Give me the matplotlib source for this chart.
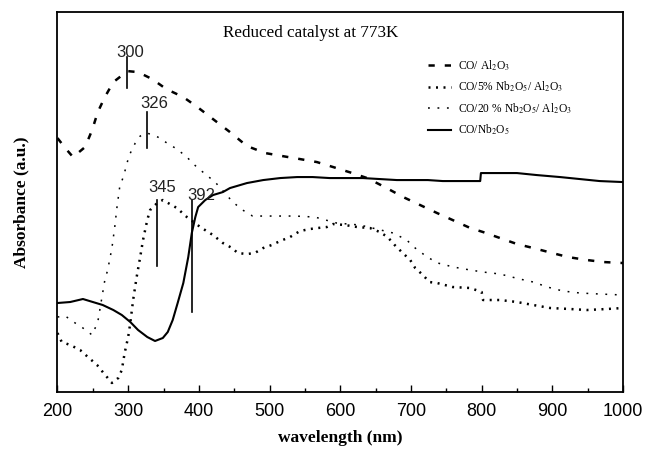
import numpy as np
import matplotlib
matplotlib.use('Agg')
import matplotlib.pyplot as plt
from matplotlib.ticker import MultipleLocator

plt.rcParams['mathtext.fontset'] = 'stix'

# CO/ Al2O3 (dashed)
wl_al = [200, 211, 222, 239, 249, 257, 267, 279, 299, 314, 334, 354, 378, 398, 420, 444,
         468, 494, 518, 543, 567, 590, 617, 638, 663, 689, 713, 737, 759, 784, 802, 826,
         850, 873, 900, 922, 949, 972, 1000]
abs_al = [2.54, 2.44, 2.35, 2.45, 2.62, 2.80, 2.95, 3.10, 3.21, 3.20, 3.13, 3.03, 2.95, 2.85,
          2.73, 2.60, 2.46, 2.39, 2.36, 2.33, 2.30, 2.25, 2.19, 2.14, 2.05, 1.95, 1.87, 1.79,
          1.72, 1.64, 1.60, 1.54, 1.48, 1.44, 1.39, 1.35, 1.32, 1.30, 1.29]

# CO/5% Nb2O5/ Al2O3 (dense dots)
wl_5 = [200, 206, 218, 232, 243, 256, 264, 277, 286, 291, 295, 300, 303, 307, 312, 317, 321,
        327, 331, 341, 349, 369, 383, 402, 420, 434, 447, 455, 468, 479, 491, 503, 515, 529,
        543, 557, 568, 581, 590, 607, 624, 642, 656, 667, 677, 687, 699, 706, 717, 726, 737,
        759, 784, 800, 802, 826, 850, 873, 897, 925, 949, 977, 1000]
abs_5 = [0.59, 0.50, 0.47, 0.42, 0.35, 0.27, 0.20, 0.09, 0.14, 0.22, 0.39, 0.55, 0.69, 0.92,
         1.15, 1.35, 1.52, 1.72, 1.82, 1.89, 1.92, 1.84, 1.75, 1.65, 1.57, 1.49, 1.44, 1.39,
         1.38, 1.39, 1.44, 1.47, 1.51, 1.55, 1.61, 1.63, 1.64, 1.65, 1.68, 1.67, 1.65, 1.64,
         1.60, 1.55, 1.47, 1.40, 1.32, 1.24, 1.17, 1.10, 1.09, 1.05, 1.04, 1.00, 0.92, 0.92,
         0.90, 0.87, 0.84, 0.83, 0.82, 0.83, 0.84]

# CO/20 % Nb2O5/ Al2O3 (sparse dots)
wl_20 = [200, 211, 225, 236, 249, 257, 267, 271, 277, 281, 284, 288, 293, 297, 301, 310, 317,
         327, 342, 355, 369, 383, 394, 409, 423, 448, 462, 476, 490, 536, 564, 595, 628, 675,
         694, 706, 723, 738, 760, 784, 802, 826, 854, 873, 893, 915, 939, 967, 1000]
abs_20 = [0.75, 0.76, 0.69, 0.64, 0.57, 0.70, 1.12, 1.22, 1.44, 1.65, 1.84, 2.05, 2.15, 2.25,
          2.36, 2.49, 2.56, 2.59, 2.55, 2.49, 2.43, 2.35, 2.27, 2.18, 2.10, 1.90, 1.82, 1.76,
          1.76, 1.76, 1.75, 1.69, 1.67, 1.59, 1.52, 1.44, 1.35, 1.29, 1.25, 1.22, 1.20, 1.18,
          1.13, 1.10, 1.05, 1.01, 0.99, 0.98, 0.97]

# CO/Nb2O5 (solid)
wl_nb = [200, 218, 236, 250, 264, 279, 291, 303, 314, 327, 338, 349, 356, 363, 370, 378, 385,
         390, 395, 399, 409, 420, 434, 444, 468, 491, 515, 539, 561, 585, 632, 656, 680, 724,
         745, 798, 799, 830, 850, 878, 911, 939, 967, 1000]
abs_nb = [0.89, 0.90, 0.93, 0.90, 0.87, 0.82, 0.77, 0.70, 0.62, 0.55, 0.51, 0.54, 0.60, 0.72,
          0.89, 1.09, 1.35, 1.59, 1.75, 1.85, 1.92, 1.97, 2.00, 2.04, 2.09, 2.12, 2.14, 2.15,
          2.15, 2.14, 2.14, 2.13, 2.12, 2.12, 2.11, 2.11, 2.19, 2.19, 2.19, 2.17, 2.15, 2.13,
          2.11, 2.10]

# peak markers: label, line x, line bottom, line top, label position
peak_labels = ['300', '326', '345', '392']
peak_x = [298, 327, 341, 390]
peak_y0 = [3.04, 2.44, 1.26, 0.80]
peak_y1 = [3.35, 2.80, 1.92, 1.92]
peak_tx = [303, 337, 348, 404]
peak_ty = [3.40, 2.89, 2.05, 1.97]

fig = plt.figure(figsize=(6.51, 4.49), dpi=100)
ax = fig.add_axes([0.0883, 0.127, 0.8687, 0.846])

ax.plot(wl_al, abs_al, color='black', lw=1.8, dashes=(2.5, 4.0),
        label=r'CO/ Al$_2$O$_3$')
ax.plot(wl_5, abs_5, color='black', lw=1.8, dashes=(0.8, 2.2),
        label=r'CO/5% Nb$_2$O$_5$/ Al$_2$O$_3$')
ax.plot(wl_20, abs_20, color='black', lw=1.1, dashes=(1.2, 5.0),
        label=r'CO/20 % Nb$_2$O$_5$/ Al$_2$O$_3$')
ax.plot(wl_nb, abs_nb, color='black', lw=1.5, label=r'CO/Nb$_2$O$_5$')

for lab, x, y0, y1, tx, ty in zip(peak_labels, peak_x, peak_y0, peak_y1, peak_tx, peak_ty):
    ax.plot([x, x], [y0, y1], color='black', lw=1.2)
    ax.text(tx, ty, lab, ha='center', va='center', fontsize=12,
            family='Liberation Sans', color='#222222')

ax.text(0.447, 0.945, 'Reduced catalyst at 773K', transform=ax.transAxes,
        ha='center', va='center', fontsize=12.3, family='Liberation Serif')

leg = ax.legend(loc='upper left', bbox_to_anchor=(0.655, 0.878), frameon=False,
                prop={'family': 'Liberation Serif', 'size': 8.3},
                handlelength=2.0, handletextpad=0.6, labelspacing=0.6,
                borderpad=0, borderaxespad=0)

ax.set_xlim(200, 1000)
ax.set_ylim(0, 3.8)
ax.xaxis.set_major_locator(MultipleLocator(100))
ax.xaxis.set_minor_locator(MultipleLocator(50))
ax.set_yticks([])
ax.tick_params(axis='x', which='major', direction='in', length=5, width=1.0,
               labelsize=13, pad=8)
ax.tick_params(axis='x', which='minor', direction='in', length=3, width=1.0)
for lab in ax.get_xticklabels():
    lab.set_family('Liberation Sans')
for sp in ax.spines.values():
    sp.set_linewidth(1.3)

ax.set_xlabel('wavelength (nm)', family='Liberation Serif', fontweight='bold',
              fontsize=12.5, labelpad=7)
ax.set_ylabel('Absorbance (a.u.)', family='Liberation Serif', fontweight='bold',
              fontsize=12.5, labelpad=20)

fig.savefig('out.png', dpi=100)
